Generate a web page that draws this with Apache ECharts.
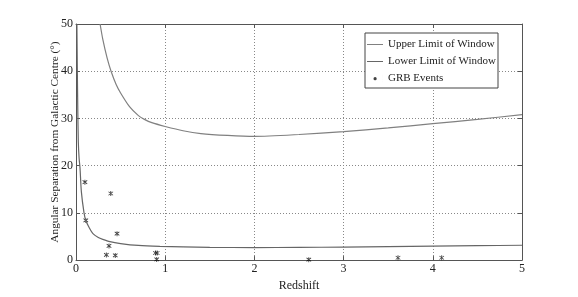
<!DOCTYPE html>
<html><head><meta charset="utf-8">
<script src="https://cdn.jsdelivr.net/npm/echarts@6/dist/echarts.min.js"></script>
<style>html,body{margin:0;padding:0;background:#fff}#c{width:578px;height:297px}</style>
</head><body><div id="c"></div>
<script>
// Upper limit of window: [redshift, angle]
const upperLimit = [[0.27,50],[0.3,46.8],[0.35,42.7],[0.393,40],[0.45,37.2],[0.5,35.4],[0.6,32.5],[0.7,30.6],[0.767,29.8],[0.85,29.1],[1,28.3],[1.2,27.4],[1.4,26.8],[1.7,26.4],[2,26.2],[2.5,26.6],[3,27.2],[3.5,28.0],[4,28.9],[4.5,29.8],[5,30.8]];
// Lower limit of window
const lowerLimit = [[0.01,50],[0.015,40],[0.02,32],[0.026,25],[0.035,21.5],[0.045,19.5],[0.06,14.5],[0.09,10],[0.11,8.4],[0.15,6.8],[0.19,5.6],[0.25,4.8],[0.3,4.4],[0.38,3.9],[0.5,3.5],[0.7,3.1],[0.94,2.9],[1.2,2.8],[1.5,2.7],[2,2.65],[2.5,2.7],[3,2.75],[3.5,2.85],[4,2.95],[4.5,3.05],[5,3.15]];
// GRB events
const grbEvents = [[0.10,16.5],[0.11,8.4],[0.39,14.1],[0.46,5.6],[0.37,3.0],[0.34,1.1],[0.44,1.0],[0.89,1.5],[0.91,1.5],[0.905,0.15],[2.61,0.1],[3.61,0.5],[4.10,0.5]];
const xTicks = [0,1,2,3,4,5];
const yTicks = [0,10,20,30,40,50];

const FONT = '"Liberation Serif", "DejaVu Serif", serif';
const star = 'path://M4.2,0H5.8V10H4.2Z M0.2,2.2L1.0,0.8L9.8,7.8L9.0,9.2Z M0.2,7.8L1.0,9.2L9.8,2.2L9.0,0.8Z';
const lineIcon = 'path://M0,3.5H16V4.6H0Z M0,0H0.01V8H0Z';
const dotIcon = 'path://M6.5,4.2a1.6,1.6 0 1,0 3.2,0a1.6,1.6 0 1,0 -3.2,0Z M0,0H0.01V8H0Z M15.99,0H16V8H15.99Z';
const chart = echarts.init(document.getElementById('c'));
const axisCommon = {
  axisLine: {show: true, onZero: false, lineStyle: {color: '#555', width: 1}},
  axisTick: {show: true, inside: true, length: 4, lineStyle: {color: '#555'}},
};
chart.setOption({
  animation: false,
  backgroundColor: '#fff',
  textStyle: {fontFamily: FONT},
  grid: {left: 76, right: 56, top: 24, bottom: 34, show: false},
  legend: {
    orient: 'vertical', left: 365, top: 33,
    borderColor: '#444', borderWidth: 1, padding: [6, 2, 4, 2],
    itemWidth: 16, itemHeight: 8, itemGap: 6,
    textStyle: {fontFamily: FONT, fontSize: 11, color: '#222'},
    backgroundColor: '#fff',
    data: [
      {name: 'Upper Limit of Window', icon: lineIcon, itemStyle: {color: '#808080'}},
      {name: 'Lower Limit of Window', icon: lineIcon, itemStyle: {color: '#666'}},
      {name: 'GRB Events', icon: dotIcon, itemStyle: {color: '#111'}}
    ]
  },
  xAxis: [
    Object.assign({}, axisCommon, {
      type: 'value', min: xTicks[0], max: xTicks[xTicks.length-1], interval: 1,
      name: 'Redshift', nameLocation: 'middle', nameGap: 13,
      nameTextStyle: {fontFamily: FONT, fontSize: 12, color: '#222'},
      axisLabel: {fontFamily: FONT, fontSize: 12, color: '#222', margin: 3},
      splitLine: {show: true, lineStyle: {type: [1, 2], color: '#888'}}
    }),
    Object.assign({}, axisCommon, {
      type: 'value', position: 'top', min: 0, max: 5, interval: 1,
      axisLabel: {show: false}, splitLine: {show: false}
    })
  ],
  yAxis: [
    Object.assign({}, axisCommon, {
      type: 'value', min: yTicks[0], max: yTicks[yTicks.length-1], interval: 10,
      name: 'Angular Separation from Galactic Centre (°)', nameLocation: 'middle', nameGap: 15,
      nameMoveOverlap: false,
      nameTextStyle: {fontFamily: FONT, fontSize: 11.3, color: '#222', verticalAlign: 'bottom'},
      axisLabel: {fontFamily: FONT, fontSize: 12, color: '#222', margin: 3},
      splitLine: {show: true, lineStyle: {type: [1, 2], color: '#888'}}
    }),
    Object.assign({}, axisCommon, {
      type: 'value', position: 'right', min: 0, max: 50, interval: 10,
      axisLabel: {show: false}, splitLine: {show: false}
    })
  ],
  series: [
    {name: 'Upper Limit of Window', type: 'line', data: upperLimit, symbol: 'none', smooth: 0.25,
     lineStyle: {color: '#808080', width: 1.2}, itemStyle: {color: '#808080'}},
    {name: 'Lower Limit of Window', type: 'line', data: lowerLimit, symbol: 'none', smooth: 0.25,
     lineStyle: {color: '#666', width: 1.2}, itemStyle: {color: '#666'}},
    {name: 'GRB Events', type: 'scatter', data: grbEvents, symbol: star, symbolSize: 5,
     itemStyle: {color: '#000'}}
  ]
});
</script></body></html>
